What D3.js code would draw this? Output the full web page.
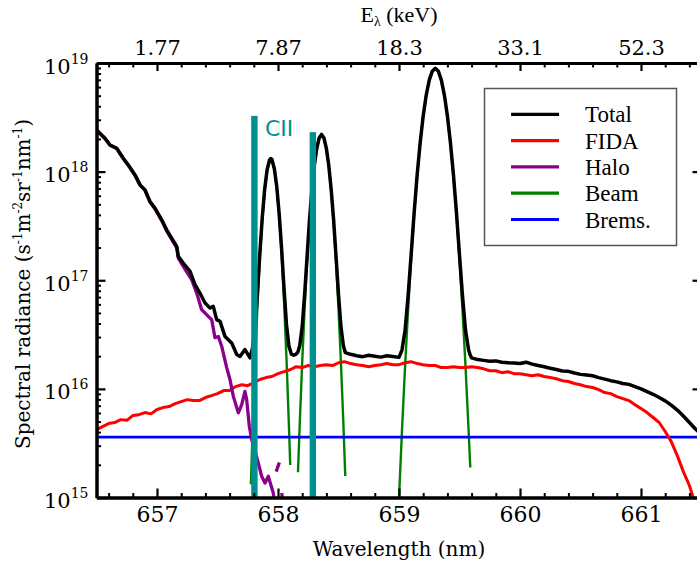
<!DOCTYPE html>
<html><head><meta charset="utf-8">
<script src="https://cdn.jsdelivr.net/npm/d3@7"></script>
<style>html,body{margin:0;padding:0;background:#fff;overflow:hidden}</style>
</head><body><svg id="c" width="697" height="566"></svg>
<script>
// ---------- DATA ----------
const xMajorTicks = [657, 658, 659, 660, 661];
const keVLabels = ["1.77", "7.87", "18.3", "33.1", "52.3"];
const xMinorTicks = [656.6,656.8,657.2,657.4,657.6,657.8,658.2,658.4,658.6,658.8,659.2,659.4,659.6,659.8,660.2,660.4,660.6,660.8,661.2,661.4];
const yMajorTicks = [1e15, 1e16, 1e17, 1e18, 1e19];

const legendNames = ["Total", "FIDA", "Halo", "Beam", "Brems."];
const legendColors = ["#000000", "#ff0000", "#8b008b", "#008000", "#0000ff"];

const totalWl = [656.50,656.57,656.612,656.667,656.721,656.763,656.818,656.86,656.901,656.942,656.983,657.039,657.08,657.121,657.163,657.176,657.217,657.273,657.314,657.355,657.397,657.438,657.465,657.493,657.521,657.562,657.617,657.659,657.686,657.727,657.769,
657.79,657.81,657.83,657.85,657.87,657.89,657.91,657.93,657.941,657.95,657.97,657.99,658.01,658.03,658.05,658.07,658.09,658.11,658.13,658.15,
658.165,658.18,658.20,658.22,658.24,658.26,658.28,658.30,658.32,658.34,658.36,658.38,658.40,658.42,658.44,658.46,658.48,658.50,658.52,658.54,658.556,
658.60,658.65,658.70,658.75,658.80,658.85,658.90,658.95,659.00,659.025,659.05,659.075,659.10,659.125,659.15,659.175,659.20,659.225,659.25,659.275,659.30,
659.325,659.35,659.375,659.40,659.425,659.45,659.475,659.50,659.525,659.55,659.575,659.589,659.60,659.65,659.70,659.75,659.80,659.85,659.90,659.95,660.00,
660.05,660.10,660.15,660.20,660.25,660.30,660.35,660.40,660.45,660.50,660.55,660.60,660.65,660.70,660.75,660.80,660.85,660.90,660.95,661.00,661.05,661.10,
661.15,661.20,661.25,661.30,661.35,661.40,661.45,661.50];
const totalVals = [2.42e18,2.03e18,1.76e18,1.64e18,1.33e18,1.15e18,9.33e17,7.55e17,6.79e17,5.31e17,4.61e17,3.60e17,2.91e17,2.44e17,2.05e17,1.66e17,1.44e17,1.21e17,9.10e16,7.62e16,6.17e16,5.55e16,5.74e16,4.34e16,4.18e16,3.04e16,2.65e16,2.07e16,1.99e16,2.30e16,1.93e16,
2.40e16,3.67e16,7.73e16,1.77e17,3.80e17,6.92e17,1.04e18,1.28e18,1.32e18,1.29e18,1.06e18,7.24e17,4.07e17,1.93e17,8.39e16,3.92e16,2.48e16,2.09e16,2.04e16,2.09e16,
2.19e16,2.51e16,3.75e16,7.41e16,1.63e17,3.55e17,6.76e17,1.13e18,1.63e18,2.04e18,2.20e18,2.04e18,1.63e18,1.13e18,6.76e17,3.55e17,1.63e17,7.41e16,3.75e16,2.51e16,2.16e16,
2.08e16,2.02e16,1.98e16,2.04e16,2.00e16,1.96e16,2.02e16,1.99e16,1.95e16,2.29e16,3.44e16,7.14e16,1.70e17,4.17e17,9.33e17,1.85e18,3.26e18,5.07e18,6.95e18,8.41e18,8.95e18,
8.41e18,6.95e18,5.07e18,3.26e18,1.85e18,9.33e17,4.17e17,1.70e17,7.14e16,3.44e16,2.29e16,2.04e16,1.93e16,1.86e16,1.83e16,1.80e16,1.81e16,1.76e16,1.74e16,1.73e16,1.71e16,
1.76e16,1.69e16,1.64e16,1.60e16,1.55e16,1.51e16,1.46e16,1.45e16,1.40e16,1.36e16,1.34e16,1.32e16,1.27e16,1.23e16,1.19e16,1.16e16,1.12e16,1.10e16,1.05e16,1.00e16,9.44e15,8.91e15,
8.32e15,7.76e15,7.08e15,6.38e15,5.62e15,4.90e15,4.27e15,3.80e15];

const fidaWl = [656.50,656.55,656.60,656.65,656.70,656.75,656.80,656.85,656.90,656.95,657.00,657.05,657.10,657.15,657.20,657.25,657.30,657.35,657.40,657.45,657.50,657.55,657.60,657.65,657.70,657.75,
657.80,657.85,657.90,657.95,658.00,658.05,658.10,658.15,658.20,658.25,658.30,658.35,658.40,658.45,658.50,658.55,658.60,658.65,658.70,658.75,658.80,658.85,658.90,658.95,
659.00,659.05,659.10,659.15,659.20,659.25,659.30,659.35,659.40,659.45,659.50,659.55,659.60,659.65,659.70,659.75,659.80,659.85,659.90,659.95,660.00,660.05,660.10,660.15,
660.20,660.25,660.30,660.35,660.40,660.45,660.50,660.55,660.60,660.65,660.70,660.75,660.80,660.85,660.90,660.95,661.00,661.05,661.10,661.15,661.20,661.25,661.30,661.35,661.40,661.45,661.50];
const fidaVals = [4.22e15,4.50e15,4.79e15,4.90e15,5.21e15,5.13e15,5.68e15,5.79e15,6.05e15,5.89e15,6.46e15,6.73e15,6.87e15,7.31e15,7.64e15,7.96e15,7.80e15,7.80e15,8.32e15,8.67e15,9.04e15,9.64e15,9.64e15,1.05e16,1.09e16,1.07e16,
1.14e16,1.22e16,1.27e16,1.30e16,1.38e16,1.44e16,1.50e16,1.60e16,1.57e16,1.64e16,1.60e16,1.64e16,1.67e16,1.64e16,1.74e16,1.78e16,1.71e16,1.67e16,1.64e16,1.60e16,1.64e16,1.67e16,1.71e16,1.67e16,
1.67e16,1.74e16,1.78e16,1.71e16,1.67e16,1.64e16,1.64e16,1.57e16,1.57e16,1.60e16,1.57e16,1.57e16,1.60e16,1.57e16,1.53e16,1.47e16,1.47e16,1.41e16,1.44e16,1.38e16,1.38e16,1.35e16,1.32e16,1.35e16,
1.30e16,1.27e16,1.24e16,1.19e16,1.17e16,1.12e16,1.09e16,1.05e16,1.03e16,9.84e15,9.25e15,9.04e15,8.49e15,8.13e15,7.80e15,7.16e15,6.58e15,6.05e15,5.45e15,4.90e15,4.05e15,3.27e15,2.43e15,1.73e15,1.29e15,8.6e14,5.1e14];

const haloWl = [656.50,656.57,656.612,656.667,656.721,656.763,656.818,656.86,656.901,656.942,656.983,657.039,657.08,657.121,657.163,657.176,
657.217,657.287,657.328,657.369,657.424,657.452,657.479,657.507,657.535,657.576,657.603,657.631,657.672,657.70,657.727,657.741,657.763,657.783,
657.837,657.865,657.893,657.92,657.948,657.961,657.974,657.98,657.985,658.011,658.02,658.031,658.045];
const haloVals = [2.41e18,2.02e18,1.75e18,1.63e18,1.32e18,1.14e18,9.27e17,7.49e17,6.73e17,5.25e17,4.55e17,3.54e17,2.85e17,2.38e17,1.99e17,1.60e17,
1.34e17,1.01e17,7.62e16,5.36e16,4.65e16,4.34e16,2.96e16,3.04e16,2.46e16,1.57e16,1.22e16,8.53e15,6.01e15,7.16e15,9.49e15,7.96e15,4.53e15,3.41e15,
2.08e15,1.57e15,1.36e15,1.57e15,1.23e15,1.10e15,8.6e14,null,1.73e15,2.10e15,null,1.10e15,7.8e14];

const beamWl = [657.776,657.79,657.81,657.83,657.85,657.87,657.89,657.91,657.93,657.941,657.95,657.97,657.99,658.01,658.03,658.05,658.07,658.09,658.101,658.13,
658.165,658.18,658.20,658.22,658.24,658.26,658.28,658.30,658.32,658.34,658.36,658.38,658.40,658.42,658.44,658.46,658.48,658.50,658.52,658.54,658.556,658.80,
659.000,659.025,659.05,659.075,659.10,659.125,659.15,659.175,659.20,659.225,659.25,659.275,659.30,659.325,659.35,659.375,659.40,659.425,659.45,659.475,659.50,659.525,659.55,659.575,659.589];
const beamVals = [1.32e15,4.04e15,1.68e16,5.74e16,1.60e17,3.62e17,6.73e17,1.02e18,1.26e18,1.30e18,1.27e18,1.05e18,7.08e17,3.89e17,1.75e17,6.41e16,1.92e16,4.70e15,1.99e15,null,
1.71e15,4.91e15,1.76e16,5.46e16,1.45e17,3.32e17,6.53e17,1.11e18,1.61e18,2.02e18,2.18e18,2.02e18,1.61e18,1.11e18,6.53e17,3.32e17,1.45e17,5.46e16,1.76e16,4.91e15,1.58e15,null,
9.8e14,4.20e15,1.59e16,5.28e16,1.55e17,4.01e17,9.14e17,1.84e18,3.24e18,5.06e18,6.93e18,8.39e18,8.93e18,8.39e18,6.93e18,5.06e18,3.24e18,1.84e18,9.14e17,4.01e17,1.55e17,5.28e16,1.59e16,4.20e15,1.89e15];

const bremsWl = [656.5, 661.5];
const bremsVals = [3.6e15, 3.6e15];

const ciiWl = [657.805, 658.288];
const ciiTop = [3.26e18, 2.31e18];
const ciiLabel = "CII";

// ---------- CHART ----------
const svg = d3.select("#c");
const x = d3.scaleLinear().domain([656.5, 661.5]).range([96.5, 701.5]);
const y = d3.scaleLog().domain([1e15, 1e19]).range([497.5, 63]);

svg.append("defs").append("clipPath").attr("id", "clip")
  .append("rect").attr("x", x.range()[0]).attr("y", y.range()[1])
  .attr("width", x.range()[1] - x.range()[0]).attr("height", y.range()[0] - y.range()[1]);

const plot = svg.append("g").attr("clip-path", "url(#clip)");
const pts = (wl, v) => wl.map((w, i) => ({ w, v: v[i] }));
const line = d3.line().defined(d => d.v != null).x(d => x(d.w)).y(d => y(d.v));

const seriesList = [
  { data: pts(beamWl, beamVals), color: legendColors[3], w: 2.4 },
  { data: pts(bremsWl, bremsVals), color: legendColors[4], w: 2.8 },
  { data: pts(fidaWl, fidaVals), color: legendColors[1], w: 3 },
  { data: pts(haloWl, haloVals), color: legendColors[2], w: 3.3 },
  { data: pts(totalWl, totalVals), color: legendColors[0], w: 3.5 }
];
seriesList.forEach(s => {
  plot.append("path").datum(s.data).attr("fill", "none").attr("stroke", s.color)
    .attr("stroke-width", s.w).attr("stroke-linejoin", "round").attr("d", line);
});

// CII bars
const ciiColor = "#009090";
plot.selectAll("rect.cii").data(ciiWl).enter().append("rect").attr("class", "cii")
  .attr("x", d => x(d) - 3.2).attr("width", 6.4)
  .attr("y", (d, i) => y(ciiTop[i])).attr("height", (d, i) => y(1e15) - y(ciiTop[i]) + 2)
  .attr("fill", ciiColor);
svg.append("text").attr("x", x(ciiWl[0]) + 10.5).attr("y", 135.5)
  .attr("font-family", "DejaVu Sans").attr("font-size", 22).attr("fill", ciiColor).text(ciiLabel);

// ---------- AXES ----------
const serif = "DejaVu Serif";
function styleAxis(g, sw) {
  g.select(".domain").attr("stroke", "#000").attr("stroke-width", 3);
  g.selectAll(".tick line").attr("stroke", "#000").attr("stroke-width", sw);
}
const yMinor = [];
for (let e = 15; e < 19; e++) for (let m = 2; m <= 9; m++) yMinor.push(m * Math.pow(10, e));

// bottom
const gb = svg.append("g").attr("transform", `translate(0,${y.range()[0]})`);
gb.call(d3.axisBottom(x).tickValues(xMinorTicks).tickSize(-4.5).tickSizeOuter(0).tickFormat(""));
styleAxis(gb, 2);
const gb2 = svg.append("g").attr("transform", `translate(0,${y.range()[0]})`);
gb2.call(d3.axisBottom(x).tickValues(xMajorTicks).tickSize(-9).tickSizeOuter(0).tickPadding(9).tickFormat(d3.format("d")));
styleAxis(gb2, 2.2);
gb2.selectAll("text").attr("font-family", serif).attr("font-size", 22).attr("fill", "#000");

// top
const gt = svg.append("g").attr("transform", `translate(0,${y.range()[1]})`);
gt.call(d3.axisTop(x).tickValues(xMinorTicks).tickSize(-4.5).tickSizeOuter(0).tickFormat(""));
styleAxis(gt, 2);
const gt2 = svg.append("g").attr("transform", `translate(0,${y.range()[1]})`);
gt2.call(d3.axisTop(x).tickValues(xMajorTicks).tickSize(-8).tickSizeOuter(0).tickPadding(8).tickFormat((d, i) => keVLabels[i]));
styleAxis(gt2, 2.2);
gt2.selectAll("text").attr("font-family", serif).attr("font-size", 21).attr("fill", "#000");

// left
const gl = svg.append("g").attr("transform", `translate(${x.range()[0]},0)`);
gl.call(d3.axisLeft(y).tickValues(yMinor).tickSize(-4.5).tickSizeOuter(0).tickFormat(""));
styleAxis(gl, 2);
const gl2 = svg.append("g").attr("transform", `translate(${x.range()[0]},0)`);
gl2.call(d3.axisLeft(y).tickValues(yMajorTicks).tickSize(-9).tickSizeOuter(0).tickPadding(8).tickFormat(""));
styleAxis(gl2, 2.2);
gl2.selectAll(".tick text").each(function (d) {
  const t = d3.select(this).attr("dy", null).attr("y", 10)
    .attr("font-family", serif).attr("font-size", 21).attr("fill", "#000").text(null);
  t.append("tspan").text("10");
  t.append("tspan").attr("dy", -10).attr("font-size", 14).text(Math.round(Math.log10(d)));
});

// right
const gr = svg.append("g").attr("transform", `translate(${x.range()[1]},0)`);
gr.call(d3.axisRight(y).tickValues(yMinor).tickSize(-4.5).tickSizeOuter(0).tickFormat(""));
styleAxis(gr, 2);
const gr2 = svg.append("g").attr("transform", `translate(${x.range()[1]},0)`);
gr2.call(d3.axisRight(y).tickValues(yMajorTicks).tickSize(-9).tickSizeOuter(0).tickFormat(""));
styleAxis(gr2, 2.2);

// titles
const cx = (x.range()[0] + x.range()[1]) / 2;
svg.append("text").attr("x", cx).attr("y", 556).attr("text-anchor", "middle")
  .attr("font-family", serif).attr("font-size", 20).text("Wavelength (nm)");

const et = svg.append("text").attr("x", cx).attr("y", 22).attr("text-anchor", "middle")
  .attr("font-family", "Liberation Serif").attr("font-size", 22);
et.append("tspan").text("E");
et.append("tspan").attr("font-size", 14).attr("dy", 4).text("λ");
et.append("tspan").attr("dy", -4).text(" (keV)");

const yt = svg.append("text").attr("transform", "translate(30,284) rotate(-90)")
  .attr("text-anchor", "middle").attr("font-family", serif).attr("font-size", 20);
[["Spectral radiance (s", false], ["-1", true], ["m", false], ["-2", true], ["sr", false], ["-1", true], ["nm", false], ["-1", true], [")", false]]
  .forEach(([s, sup], i, arr) => {
    const prevSup = i > 0 && arr[i - 1][1];
    const tsp = yt.append("tspan").text(s);
    if (sup) tsp.attr("font-size", 12).attr("dy", -8);
    else if (prevSup) tsp.attr("dy", 8);
  });

// legend
const lg = svg.append("g");
lg.append("rect").attr("x", 484.5).attr("y", 88.5).attr("width", 192).attr("height", 157)
  .attr("fill", "#fff").attr("stroke", "#555").attr("stroke-width", 1.5);
legendNames.forEach((n, i) => {
  const yy = 114.3 + i * 26.3;
  lg.append("line").attr("x1", 511).attr("x2", 559).attr("y1", yy).attr("y2", yy)
    .attr("stroke", legendColors[i]).attr("stroke-width", 3.2);
  lg.append("text").attr("x", 585).attr("y", yy + 8).attr("font-family", "Liberation Serif")
    .attr("font-size", 23).attr("fill", "#000").text(n);
});
</script></body></html>
